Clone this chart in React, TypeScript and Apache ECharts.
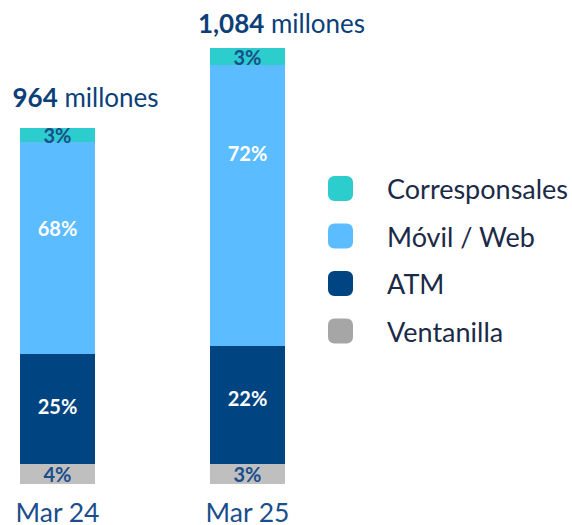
import React, { useEffect, useRef } from "react";
import * as echarts from "echarts";

const categories = ["Mar 24", "Mar 25"];
const seriesNames = ["Ventanilla", "ATM", "Móvil / Web", "Corresponsales"];
// segment sizes as drawn in the picture (relative units)
const ventanilla = [20, 20];
const atm = [110, 118];
const movilWeb = [212, 281];
const corresponsales = [14, 17];
// percentage labels
const ventanillaPct = ["4%", "3%"];
const atmPct = ["25%", "22%"];
const movilPct = ["68%", "72%"];
const corrPct = ["3%", "3%"];
const totals = ["964", "1,084"];
const legendOrder = ["Corresponsales", "Móvil / Web", "ATM", "Ventanilla"];

const colors: Record<string, string> = {
  Ventanilla: "#BFBFBF",
  ATM: "#004481",
  "Móvil / Web": "#5BBCFF",
  Corresponsales: "#2DCCCD",
};
const legendColors: Record<string, string> = {
  Ventanilla: "#A6A6A6",
  ATM: "#004481",
  "Móvil / Web": "#5BBCFF",
  Corresponsales: "#2DCCCD",
};

const FONT = "Lato, 'Noto Sans', sans-serif";

export default function App() {
  const ref = useRef<HTMLDivElement>(null);
  useEffect(() => {
    if (!ref.current) return;
    const chart = echarts.init(ref.current, undefined, { renderer: "svg" });
    const values = [ventanilla, atm, movilWeb, corresponsales];
    const pcts = [ventanillaPct, atmPct, movilPct, corrPct];
    const darkLabel = [true, false, false, true];
    // vertical nudges of the inside labels, as placed in the reference
    const labelShift = [
      [0, 0],
      [-3, -7],
      [-20, -53],
      [0, 0],
    ];
    const series: any[] = seriesNames.map((name, i) => ({
      name,
      type: "bar",
      stack: "s",
      barWidth: 75,
      clip: false,
      itemStyle: { color: colors[name] },
      label: {
        show: true,
        position: "inside",
        formatter: (p: any) => pcts[i][p.dataIndex],
        color: darkLabel[i] ? "#1A4E8C" : "#FFFFFF",
        fontFamily: FONT,
        fontWeight: "bold",
        fontSize: 20,
      },
      data: values[i].map((v, j) => ({ value: v, label: { offset: [0, labelShift[i][j]] } })),
    }));
    series.push({
      name: "total",
      type: "bar",
      stack: "s",
      barWidth: 75,
      clip: false,
      itemStyle: { color: "transparent" },
      label: {
        show: true,
        position: "top",
        formatter: (p: any) => `{b|${totals[p.dataIndex]}}{n| millones}`,
        rich: {
          b: { fontFamily: FONT, fontWeight: "bold", fontSize: 26, color: "#0B3F7A" },
          n: { fontFamily: FONT, fontSize: 26, color: "#0B3F7A" },
        },
      },
      data: [
        { value: 0, label: { offset: [28, 0], distance: 18 } },
        { value: 0, label: { offset: [34, 0], distance: 12 } },
      ],
    });
    chart.setOption({
      animation: false,
      grid: { left: 57.5, width: 190, top: 48, bottom: 41 },
      xAxis: {
        type: "category",
        data: categories,
        boundaryGap: false,
        axisLine: { show: false },
        axisTick: { show: false },
        axisLabel: {
          fontFamily: FONT,
          fontSize: 26.5,
          color: "#1A4E8C",
          margin: 14,
        },
      },
      yAxis: { type: "value", min: 0, max: 436, show: false },
      legend: {
        orient: "vertical",
        left: 323,
        top: 170,
        icon: "roundRect",
        itemWidth: 25,
        itemHeight: 25,
        itemGap: 20.5,
        data: legendOrder.map((n) => ({ name: n, itemStyle: { color: legendColors[n] } })),
        textStyle: {
          fontFamily: FONT,
          fontSize: 27,
          lineHeight: 25,
          color: "#1B2A47",
          padding: [0, 0, 0, 29],
        },
        selectedMode: false,
      },
      series,
    });
    return () => chart.dispose();
  }, []);
  return <div ref={ref} style={{ width: 572, height: 525, position: "absolute", left: 0, top: 0 }} />;
}
